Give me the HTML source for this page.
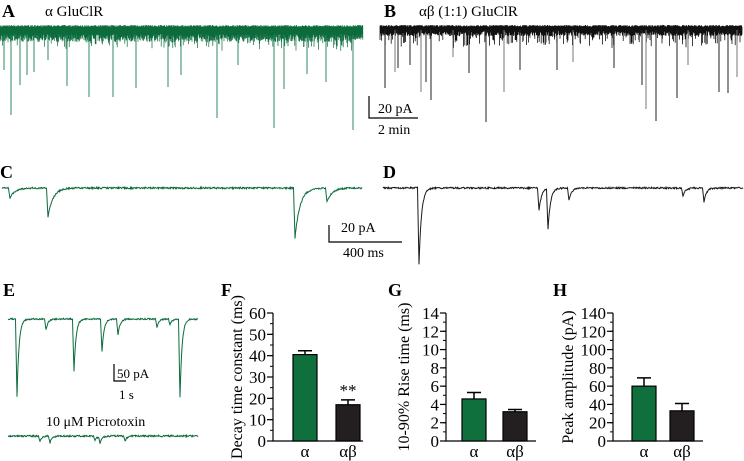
<!DOCTYPE html>
<html><head><meta charset="utf-8"><style>
html,body{margin:0;padding:0;background:#fff;}
svg{display:block;font-family:"Liberation Serif",serif;}
</style></head><body>
<svg id="fig" width="744" height="461" viewBox="0 0 744 461">
<g id="pA">
<text x="2" y="17" font-size="18" font-weight="bold">A</text>
<text x="45" y="16" font-size="15">α GluClR</text>
</g>
<g id="pB">
<text x="384" y="17" font-size="18" font-weight="bold">B</text>
<text x="419" y="16" font-size="15">αβ (1:1) GluClR</text>
<path d="M369 96 V118 H418" stroke="#000" stroke-width="1.2" fill="none"/>
<text x="378" y="113" font-size="14">20 pA</text>
<text x="378" y="134" font-size="14">2 min</text>
</g>
<g id="pC">
<text x="0" y="178" font-size="18" font-weight="bold">C</text>
<path d="M329 225 V242 H402" stroke="#000" stroke-width="1.2" fill="none"/>
<text x="341" y="232" font-size="14">20 pA</text>
<text x="343" y="257" font-size="14">400 ms</text>
</g>
<g id="pD">
<text x="383" y="178" font-size="18" font-weight="bold">D</text>
</g>
<g id="pE">
<text x="3" y="296" font-size="18" font-weight="bold">E</text>
<path d="M114 364 V381 H126" stroke="#000" stroke-width="1.2" fill="none"/>
<text x="117" y="378" font-size="13">50 pA</text>
<text x="119" y="399" font-size="13">1 s</text>
<text x="46" y="426" font-size="14">10 μM Picrotoxin</text>
</g>
<g id="bars"></g>
</svg>
<script>
// ---- trace event data (x position, trough y) ----
const aSpikeX = [4,11,20,27,34,48,67,89,113,136,168,181,217,238,274,284,307,326,353];
const aSpikeY = [70,115,85,75,72,60,86,97,97,88,87,75,118,65,128,89,74,82,130];
const bSpikeX = [385,395,398,410,421,426,431,453,469,486,504,520,557,573,614,642,646,656,677,688,719,728,737];
const bSpikeY = [88,72,68,65,92,82,100,57,73,122,92,70,70,62,68,85,109,121,98,65,92,93,77];
const cEventX = [10,48,295,327];
const cEventY = [198,217,238,202];
const dEventX = [419,539,548,569,683,704];
const dEventY = [265,211,229,201,196,202];
const eEventX = [17,46,74,102,118,157,170,180];
const eEventY = [397,330,372,352,335,327,325,398];
// ---- bar chart data ----
const groups = ["α","αβ"];
const decayMean = [40.5,17];
const decayErr = [1.8,2.3];
const riseMean = [4.6,3.2];
const riseErr = [0.7,0.25];
const peakMean = [60,33];
const peakErr = [9,8];
const decayTicks = [0,10,20,30,40,50,60];
const riseTicks = [0,2,4,6,8,10,12,14];
const peakTicks = [0,20,40,60,80,100,120,140];

const NS="http://www.w3.org/2000/svg";
let seed=12345;
function rnd(){seed=(seed*1103515245+12345)%2147483648;return seed/2147483648;}
function mk(tag,attrs,parent){const e=document.createElementNS(NS,tag);for(const k in attrs)e.setAttribute(k,attrs[k]);parent.appendChild(e);return e;}

// A: dense band + spikes
(function(){
  const g=document.getElementById('pA');
  let d='';
  for(let x=0;x<=363;x+=0.4){const t=25+rnd()*2;const b=34+rnd()*8+(rnd()<0.15?rnd()*10:0);d+=`M${x.toFixed(1)} ${t.toFixed(1)}V${b.toFixed(1)}`;}
  const band=mk('path',{d:d,stroke:'#0b6b3c','stroke-width':0.7,fill:'none'},g);
  
  
  for(let i=0;i<aSpikeX.length;i++){
    const s=mk('line',{x1:aSpikeX[i],x2:aSpikeX[i],y1:35,y2:aSpikeY[i],stroke:'#2f8a60','stroke-width':1},g);
    
    
  }
})();
// B
(function(){
  const g=document.getElementById('pB');
  let d='';
  for(let x=380;x<=742;x+=0.4){const t=25+rnd()*2;const b=31+rnd()*5+(rnd()<0.2?rnd()*12:0);d+=`M${x.toFixed(1)} ${t.toFixed(1)}V${b.toFixed(1)}`;}
  const band=mk('path',{d:d,stroke:'#111','stroke-width':0.8,fill:'none'},g);
  
  
  for(let i=0;i<bSpikeX.length;i++){
    const s=mk('line',{x1:bSpikeX[i],x2:bSpikeX[i],y1:30,y2:bSpikeY[i],stroke:i%3==1?'#777':'#222','stroke-width':1},g);
    
    
  }
})();
// event trace builder
function eventTrace(x0,x1,base,ex,ey,noise,tau){
  let d='';
  for(let x=x0;x<=x1;x+=0.5){
    let y=base+(rnd()-0.5)*noise;
    for(let i=0;i<ex.length;i++){
      const dx=x-ex[i];
      if(dx>=-1.5&&dx<0) y+=(ey[i]-base)*(1+dx/1.5);
      else if(dx>=0) y+=(ey[i]-base)*Math.exp(-dx/tau);
    }
    d+=(x===x0?'M':'L')+x.toFixed(1)+' '+y.toFixed(1);
  }
  return d;
}
(function(){
  const c=mk('path',{d:eventTrace(2,362,188,cEventX,cEventY,1.6,5),stroke:'#0b6b3c','stroke-width':1,fill:'none'},document.getElementById('pC'));
  
  
  const dd=mk('path',{d:eventTrace(383,743,188,dEventX,dEventY,1.6,2.5),stroke:'#1a1a1a','stroke-width':1,fill:'none'},document.getElementById('pD'));
  
  
  const e=mk('path',{d:eventTrace(8,198,319,eEventX,eEventY,1.4,2),stroke:'#0b6b3c','stroke-width':1,fill:'none'},document.getElementById('pE'));
  
  
  const e2=mk('path',{d:eventTrace(8,198,436,[40,50,95,100,125],[441,443,441,443,441],1.6,2),stroke:'#0b6b3c','stroke-width':1,fill:'none'},document.getElementById('pE'));
  
  
})();

// bar charts
function chart(name,axisX,maxV,ticks,minorStep,means,errs,barX,title,titleX,label,labelX){
  const g=mk('g',{},document.getElementById('bars'));
  
  
  const y0=441,yTop=313;
  const Y=v=>y0-(v/maxV)*(y0-yTop);
  const pl=mk('text',{x:labelX,y:296,'font-size':18,'font-weight':'bold'},g);pl.textContent=label;
  
  
  const ax=mk('path',{d:`M${axisX} ${yTop}V${y0}H${axisX+90}`,stroke:'#000','stroke-width':1.2,fill:'none'},g);
  
  
  for(let v=0;v<=maxV+1e-9;v+=minorStep){
    const t=mk('line',{x1:axisX-3,x2:axisX,y1:Y(v),y2:Y(v),stroke:'#000','stroke-width':1},g);
    
    
  }
  ticks.forEach(v=>{
    const t=mk('line',{x1:axisX-6,x2:axisX,y1:Y(v),y2:Y(v),stroke:'#000','stroke-width':1.2},g);
    
    
    const tl=mk('text',{x:axisX-7,y:Y(v)+6,'font-size':17,'text-anchor':'end'},g);tl.textContent=v;
    
    
  });
  const cols=['#10703d','#231f20'];
  means.forEach((m,i)=>{
    const bx=barX[i],w=24;
    const eb=mk('path',{d:`M${bx+w/2} ${Y(m)}V${Y(m+errs[i])}M${bx+w/2-7} ${Y(m+errs[i])}H${bx+w/2+7}`,stroke:'#000','stroke-width':1.5,fill:'none'},g);
    
    
    const r=mk('rect',{x:bx,y:Y(m),width:w,height:y0-Y(m),fill:cols[i],stroke:'#000','stroke-width':1.2},g);
    
    
    const xl=mk('text',{x:bx+w/2,y:457,'font-size':17,'text-anchor':'middle'},g);xl.textContent=groups[i];
    
    
  });
  const tt=mk('text',{x:titleX,y:377,'font-size':16,'text-anchor':'middle',transform:`rotate(-90 ${titleX} 377)`},g);tt.textContent=title;
  
  
  return {g,Y};
}
const f=chart('chart-decay',273,60,decayTicks,5,decayMean,decayErr,[293,336],'Decay time constant (ms)',242,'F',221);
const st=mk('text',{x:348,y:f.Y(decayMean[1]+decayErr[1])-4,'font-size':17,'text-anchor':'middle'},f.g);st.textContent='**';


chart('chart-rise',446,14,riseTicks,1,riseMean,riseErr,[462,503],'10-90% Rise time (ms)',409,'G',388);
chart('chart-peak',613,140,peakTicks,10,peakMean,peakErr,[632,670],'Peak amplitude (pA)',573,'H',553);
</script>
</body></html>
